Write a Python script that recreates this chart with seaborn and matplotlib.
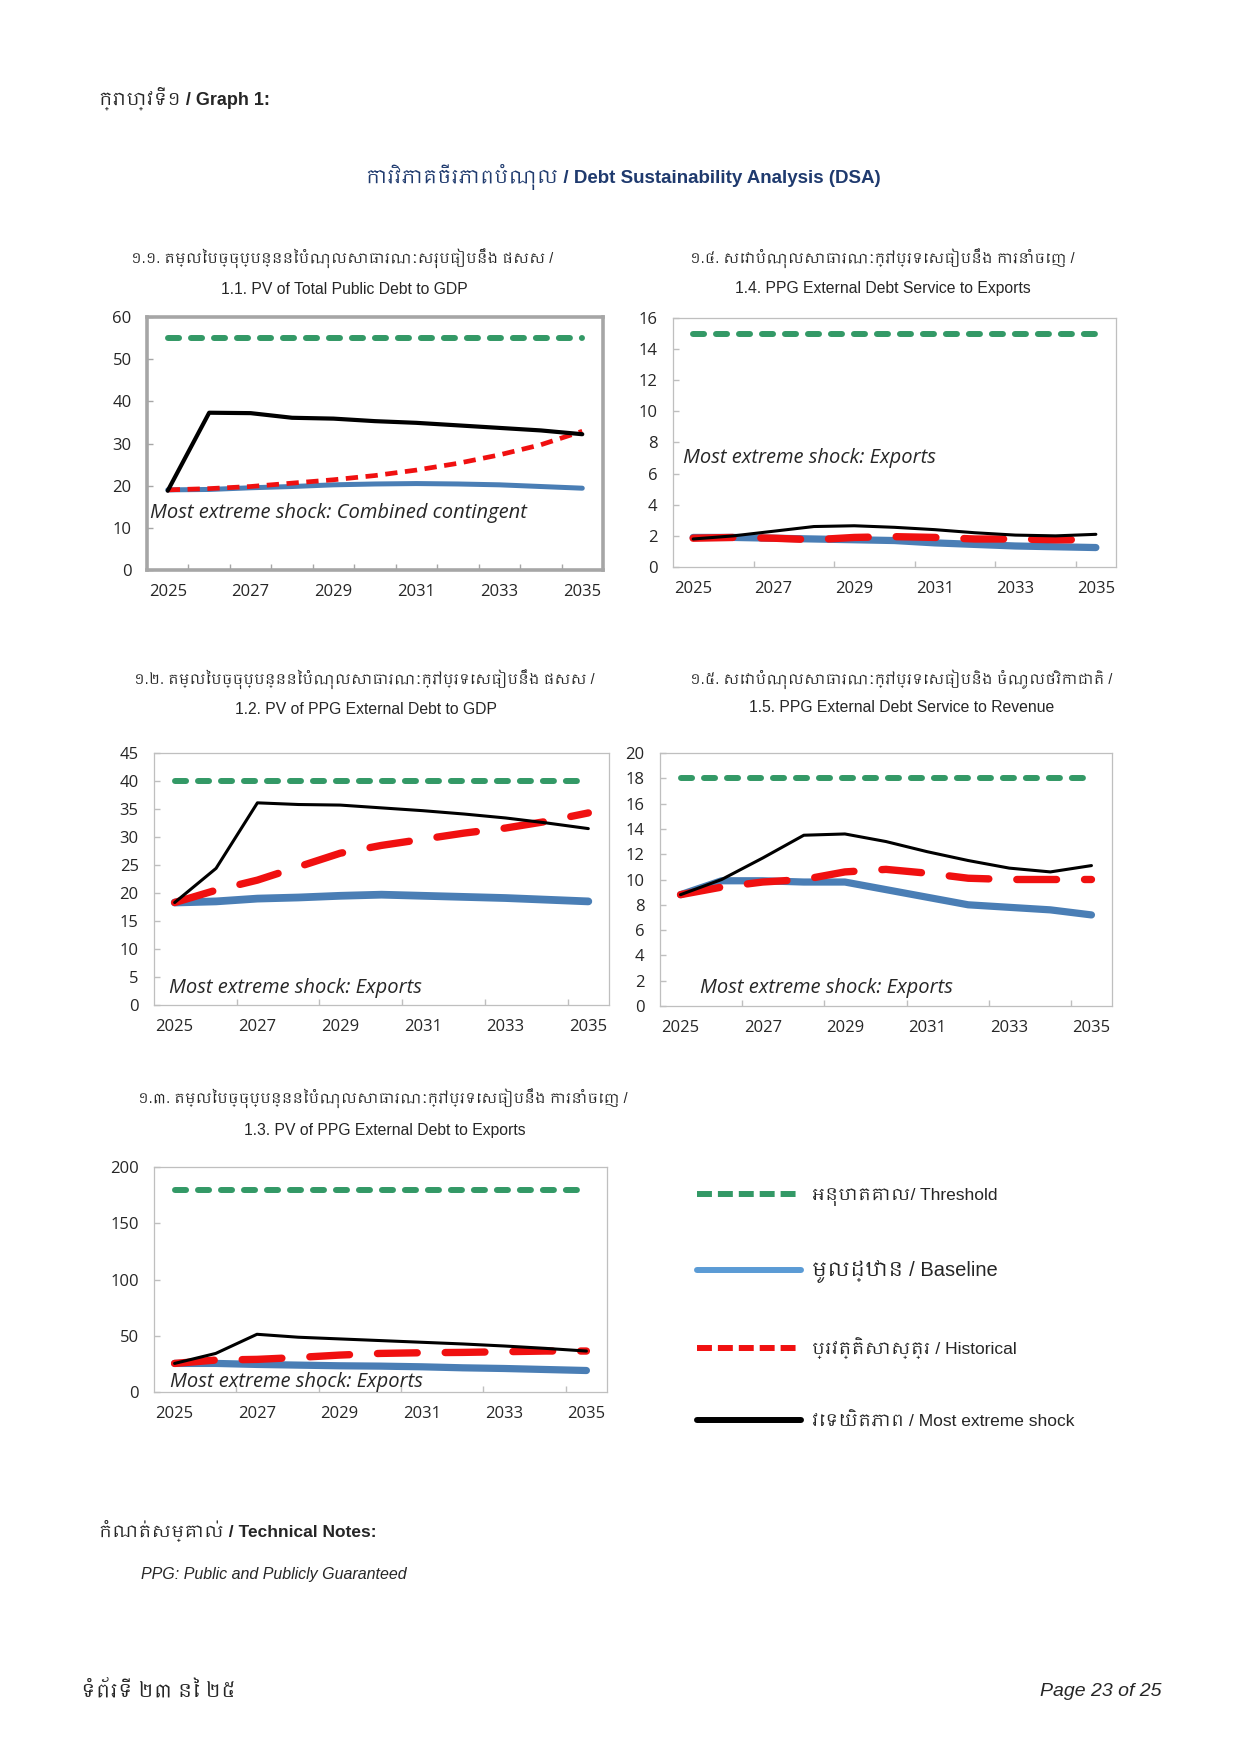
import matplotlib
matplotlib.use("Agg")
import matplotlib.pyplot as plt
from matplotlib import font_manager
from matplotlib.ft2font import FT2Font
from matplotlib.lines import Line2D
from matplotlib.ticker import FixedLocator
import seaborn as sns
import pandas as pd

years = [2025, 2026, 2027, 2028, 2029, 2030, 2031, 2032, 2033, 2034, 2035]

# 1.1 PV of total public debt to GDP
p11_threshold = [55, 55, 55, 55, 55, 55, 55, 55, 55, 55, 55]
p11_baseline = [19.0, 19.1, 19.5, 19.8, 20.2, 20.4, 20.5, 20.4, 20.2, 19.8, 19.4]
p11_historical = [19.0, 19.3, 19.8, 20.6, 21.4, 22.4, 23.7, 25.3, 27.3, 29.7, 32.9]
p11_shock = [18.8, 37.3, 37.2, 36.1, 35.9, 35.3, 34.9, 34.3, 33.7, 33.1, 32.2]

# 1.2 PV of PPG external debt to GDP
p12_threshold = [40, 40, 40, 40, 40, 40, 40, 40, 40, 40, 40]
p12_baseline = [18.3, 18.5, 19.0, 19.2, 19.5, 19.7, 19.5, 19.3, 19.1, 18.8, 18.5]
p12_historical = [18.3, 20.5, 22.3, 24.7, 27.1, 28.5, 29.6, 30.7, 31.6, 32.8, 34.3]
p12_shock = [18.3, 24.4, 36.1, 35.8, 35.7, 35.2, 34.7, 34.1, 33.4, 32.5, 31.5]

# 1.3 PV of PPG external debt to exports
p13_threshold = [180, 180, 180, 180, 180, 180, 180, 180, 180, 180, 180]
p13_baseline = [25.4, 25.4, 24.5, 23.9, 23.3, 23.0, 22.4, 21.5, 20.9, 20.0, 19.1]
p13_historical = [25.4, 28.4, 29.0, 30.7, 32.8, 34.3, 34.9, 35.2, 35.8, 36.4, 36.4]
p13_shock = [25.4, 34.3, 51.3, 48.7, 47.2, 45.7, 44.2, 42.7, 40.9, 38.8, 36.4]

# 1.4 PPG external debt service to exports
p14_threshold = [15, 15, 15, 15, 15, 15, 15, 15, 15, 15, 15]
p14_baseline = [1.9, 1.9, 1.85, 1.8, 1.75, 1.7, 1.55, 1.45, 1.35, 1.3, 1.25]
p14_historical = [1.85, 1.9, 1.85, 1.75, 1.9, 1.95, 1.9, 1.8, 1.8, 1.75, 1.75]
p14_shock = [1.8, 2.0, 2.3, 2.6, 2.65, 2.55, 2.4, 2.2, 2.05, 2.0, 2.1]

# 1.5 PPG external debt service to revenue
p15_threshold = [18, 18, 18, 18, 18, 18, 18, 18, 18, 18, 18]
p15_baseline = [8.8, 9.9, 9.9, 9.8, 9.8, 9.2, 8.6, 8.0, 7.8, 7.6, 7.2]
p15_historical = [8.8, 9.4, 9.8, 10.0, 10.6, 10.8, 10.5, 10.1, 10.0, 10.0, 10.0]
p15_shock = [8.8, 10.0, 11.7, 13.5, 13.6, 13.0, 12.2, 11.5, 10.9, 10.6, 11.1]

title_kh = {
    "1.1": "១.១. តម្លៃបច្ចុប្បន្ននៃបំណុលសាធារណៈសរុបធៀបនឹង ផសស /",
    "1.2": "១.២. តម្លៃបច្ចុប្បន្ននៃបំណុលសាធារណៈក្រៅប្រទេសធៀបនឹង ផសស /",
    "1.3": "១.៣. តម្លៃបច្ចុប្បន្ននៃបំណុលសាធារណៈក្រៅប្រទេសធៀបនឹង ការនាំចេញ /",
    "1.4": "១.៤. សេវាបំណុលសាធារណៈក្រៅប្រទេសធៀបនឹង ការនាំចេញ /",
    "1.5": "១.៥. សេវាបំណុលសាធារណៈក្រៅប្រទេសធៀបនិង ចំណូលថវិកាជាតិ /",
}
title_en = {
    "1.1": "1.1. PV of Total Public Debt to GDP",
    "1.2": "1.2. PV of PPG External Debt to GDP",
    "1.3": "1.3. PV of PPG External Debt to Exports",
    "1.4": "1.4. PPG External Debt Service to Exports",
    "1.5": "1.5. PPG External Debt Service to Revenue",
}
shock_note = {
    "1.1": "Most extreme shock: Combined contingent",
    "1.2": "Most extreme shock: Exports",
    "1.3": "Most extreme shock: Exports",
    "1.4": "Most extreme shock: Exports",
    "1.5": "Most extreme shock: Exports",
}
legend_labels = ["អនុបាតគោល/ Threshold", "មូលដ្ឋាន / Baseline",
                 "ប្រវត្តិសាស្ត្រ / Historical", "វេទយិតភាព / Most extreme shock"]

GREEN = "#339966"
BLUE = "#4A7EB5"
BLUE_LEG = "#5B9BD5"
RED = "#F01010"


def find_khmer():
    fonts = font_manager.fontManager.ttflist
    for f in fonts:
        if "khmer" in f.name.lower():
            return f.name
    for f in fonts:
        try:
            if 0x1780 in FT2Font(f.fname).get_charmap():
                return f.name
        except Exception:
            pass
    return None


have = {f.name for f in font_manager.fontManager.ttflist}
khmer = find_khmer()
kh = [khmer] if khmer else []
SANS = [n for n in ["Liberation Sans"] if n in have] + kh + ["DejaVu Sans"]
NARROW = [n for n in ["Liberation Sans Narrow", "Liberation Sans"] if n in have][:1] + kh + ["DejaVu Sans"]
TICKF = [n for n in ["Open Sans"] if n in have] + ["DejaVu Sans"]

sns.set_theme(style="white")
plt.rcParams["font.family"] = SANS

W, H = 1240, 1753
fig = plt.figure(figsize=(12.4, 17.53), dpi=100)
fig.patch.set_facecolor("white")


def px(x, y):
    return x / W, 1 - y / H


# panel layout (pixel boxes: left, top, right, bottom) and styling
layout = {
    "1.1": dict(box=(147, 317, 603, 570), ylim=(0, 60), step=10, kh=(342, 258), en=(344, 289),
                note=(0.006, 13.4), all_ticks=True, spine=("#A6A6A6", 2.6),
                blue_lw=3.6, red_lw=3.4, red_dash=(2.6, 1.6), red_cap="butt", black_lw=3.0),
    "1.4": dict(box=(673, 318, 1116, 567), ylim=(0, 16), step=2, kh=(882, 258), en=(883, 289),
                note=(0.023, 7.0), all_ticks=False, spine=("#BFBFBF", 0.9),
                blue_lw=5.2, red_lw=5.3, red_dash=(5.4, 3.8), red_cap="round", black_lw=2.2),
    "1.2": dict(box=(154, 753, 609, 1005), ylim=(0, 45), step=5, kh=(364, 679), en=(366, 709),
                note=(0.033, 3.1), all_ticks=False, spine=("#BFBFBF", 0.9),
                blue_lw=5.6, red_lw=5.3, red_dash=(5.4, 3.8), red_cap="round", black_lw=2.2),
    "1.5": dict(box=(660, 753, 1112, 1006), ylim=(0, 20), step=2, kh=(901, 679), en=(902, 708),
                note=(0.088, 1.4), all_ticks=False, spine=("#BFBFBF", 0.9),
                blue_lw=5.2, red_lw=5.3, red_dash=(5.4, 3.8), red_cap="round", black_lw=2.2),
    "1.3": dict(box=(154, 1167, 607, 1392), ylim=(0, 200), step=50, kh=(383, 1098), en=(385, 1130),
                note=(0.035, 9.0), all_ticks=False, spine=("#BFBFBF", 0.9),
                blue_lw=5.2, red_lw=5.3, red_dash=(5.4, 3.8), red_cap="round", black_lw=2.2),
}

series = {
    "1.1": (p11_threshold, p11_baseline, p11_historical, p11_shock),
    "1.2": (p12_threshold, p12_baseline, p12_historical, p12_shock),
    "1.3": (p13_threshold, p13_baseline, p13_historical, p13_shock),
    "1.4": (p14_threshold, p14_baseline, p14_historical, p14_shock),
    "1.5": (p15_threshold, p15_baseline, p15_historical, p15_shock),
}

for key, st in layout.items():
    l, t, r, b = st["box"]
    x0, y0 = px(l, b)
    ax = fig.add_axes([x0, y0, (r - l) / W, (b - t) / H])
    thr, base, hist, shock = series[key]
    df = pd.DataFrame({"year": years, "threshold": thr, "baseline": base,
                       "historical": hist, "shock": shock})

    sns.lineplot(data=df, x="year", y="threshold", ax=ax, color=GREEN, lw=4.3,
                 linestyle=(0, (1.85, 2.0)), dash_capstyle="round")
    sns.lineplot(data=df, x="year", y="baseline", ax=ax, color=BLUE, lw=st["blue_lw"],
                 solid_capstyle="round")
    sns.lineplot(data=df, x="year", y="historical", ax=ax, color=RED, lw=st["red_lw"],
                 linestyle=(0, st["red_dash"]), dash_capstyle=st["red_cap"])
    sns.lineplot(data=df, x="year", y="shock", ax=ax, color="black", lw=st["black_lw"])

    ax.set_xlabel("")
    ax.set_ylabel("")
    ax.set_xlim(2024.5, 2035.5)
    ax.set_ylim(*st["ylim"])
    ax.set_yticks(list(range(st["ylim"][0], st["ylim"][1] + 1, st["step"])))
    ax.set_xticks(years[::2])
    bounds = [y + 0.5 for y in years[:-1]]
    ax.xaxis.set_minor_locator(FixedLocator(bounds if st["all_ticks"] else bounds[1::2]))
    ax.tick_params(axis="x", which="major", length=0, pad=10, labelsize=12)
    ax.tick_params(axis="x", which="minor", direction="in", length=4, width=1,
                   color=st["spine"][0], bottom=True)
    ax.tick_params(axis="y", which="major", direction="in", length=4, width=1,
                   color=st["spine"][0], pad=11, labelsize=12, left=True)
    for lab in ax.get_xticklabels() + ax.get_yticklabels():
        lab.set_fontfamily(TICKF)
    for sp in ax.spines.values():
        sp.set_visible(True)
        sp.set_color(st["spine"][0])
        sp.set_linewidth(st["spine"][1])

    nx, ny = st["note"]
    ax.text(nx, ny, shock_note[key], transform=ax.get_yaxis_transform(), ha="left",
            va="center", fontsize=14.5, style="italic", family=TICKF)

    kx, ky = px(*st["kh"])
    fig.text(kx, ky, title_kh[key], ha="center", va="center", fontsize=10.3, family=SANS)
    ex, ey = px(*st["en"])
    fig.text(ex, ey, title_en[key], ha="center", va="center", fontsize=11.3, family=SANS)

# legend
handles = [
    Line2D([], [], color=GREEN, lw=4.3, linestyle=(0, (2.5, 1.0)), dash_capstyle="butt"),
    Line2D([], [], color=BLUE_LEG, lw=4.3),
    Line2D([], [], color=RED, lw=4.3, linestyle=(0, (2.5, 1.0)), dash_capstyle="butt"),
    Line2D([], [], color="black", lw=4.3),
]
lx, ly = px(697, 1188)
leg = fig.legend(handles, legend_labels, loc="upper left", bbox_to_anchor=(lx, ly),
                 frameon=False, handlelength=6, handletextpad=0.6, labelspacing=3.1,
                 borderpad=0, borderaxespad=0, prop={"family": SANS, "size": 12.5})
leg.get_texts()[1].set_fontsize(14.5)

# page texts
fig.text(*px(99, 98), "ក្រាហ្វទី១ / Graph 1:", ha="left", va="center", fontsize=13,
         fontweight="bold", family=NARROW)
fig.text(*px(623, 177), "ការវិភាគចីរភាពបំណុល / Debt Sustainability Analysis (DSA)", ha="center",
         va="center", fontsize=13.5, fontweight="bold", color="#1F3A6E", family=NARROW)
fig.text(*px(99, 1531), "កំណត់សម្គាល់ / Technical Notes:", ha="left", va="center", fontsize=12.5,
         fontweight="bold", family=NARROW)
fig.text(*px(141, 1574), "PPG: Public and Publicly Guaranteed", ha="left", va="center",
         fontsize=11.5, style="italic", family=NARROW)
fig.text(*px(81, 1691), "ទំព័រទី ២៣ នៃ ២៥", ha="left", va="center", fontsize=14,
         style="italic", family=NARROW)
fig.text(*px(1161, 1691), "Page 23 of 25", ha="right", va="center", fontsize=14,
         style="italic", family=NARROW)

fig.savefig("out.png", dpi=100, facecolor="white")
